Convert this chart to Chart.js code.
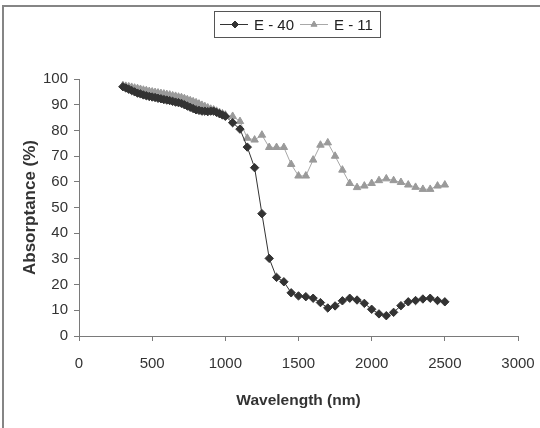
<!DOCTYPE html>
<html>
<head>
<meta charset="utf-8">
<title>Absorptance vs Wavelength</title>
<script src="https://cdn.jsdelivr.net/npm/chart.js@4/dist/chart.umd.min.js"></script>
<style>
    html, body { margin: 0; padding: 0; background: #fff; }
    #wrap { position: relative; width: 540px; height: 428px; }
</style>
</head>
<body>
<div id="wrap">
    <canvas id="absChart" width="540" height="428"></canvas>
</div>
<script>
// Data
const wavelengths = [
    300, 320, 340, 360, 380, 400, 420, 440, 460, 480,
    500, 520, 540, 560, 580, 600, 620, 640, 660, 680,
    700, 720, 740, 760, 780, 800, 820, 840, 860, 880,
    900, 920, 940, 960, 980, 1000,
    1050, 1100, 1150, 1200, 1250, 1300, 1350, 1400, 1450, 1500,
    1550, 1600, 1650, 1700, 1750, 1800, 1850, 1900, 1950, 2000,
    2050, 2100, 2150, 2200, 2250, 2300, 2350, 2400, 2450, 2500
];

const e40 = [
    97.0, 96.5, 96.0, 95.5, 95.0, 94.5, 94.2, 93.8, 93.5, 93.2,
    93.0, 92.8, 92.5, 92.3, 92.0, 91.8, 91.6, 91.3, 91.0, 90.8,
    90.5, 90.0, 89.5, 89.0, 88.5, 88.0, 87.8, 87.5, 87.5, 87.3,
    87.5, 87.5, 87.0, 86.5, 86.0, 85.5,
    83.0, 80.5, 73.5, 65.5, 47.6, 30.2, 22.8, 21.1, 16.8, 15.6,
    15.3, 14.7, 13.0, 10.9, 11.7, 13.7, 14.7, 14.0, 12.7, 10.4,
    8.6, 7.9, 9.2, 11.8, 13.3, 13.8, 14.4, 14.7, 13.8, 13.3
];

const e11 = [
    97.5, 97.2, 97.0, 96.8, 96.5, 96.3, 96.0, 95.7, 95.5, 95.2,
    95.0, 94.8, 94.6, 94.4, 94.2, 94.0, 93.8, 93.5, 93.3, 93.0,
    92.8, 92.4, 92.0, 91.6, 91.2, 90.8, 90.3, 89.8, 89.3, 88.8,
    88.3, 88.0, 87.5, 87.0, 86.5, 86.0,
    85.5, 83.5, 77.0, 76.3, 78.2, 73.4, 73.4, 73.4, 66.8, 62.3,
    62.3, 68.5, 74.3, 75.2, 70.0, 64.6, 59.4, 57.8, 58.4, 59.4,
    60.5, 61.2, 60.5, 59.8, 58.8, 57.9, 57.1, 57.1, 58.4, 58.8
];

const seriesNames = ['E - 40', 'E - 11'];
const xTicks = [0, 500, 1000, 1500, 2000, 2500, 3000];
const yTicks = [0, 10, 20, 30, 40, 50, 60, 70, 80, 90, 100];

const FONT = "'Liberation Sans', Arial, sans-serif";
const axisColor = '#7a7a7a';
const darkColor = '#333333';
const greyLine = '#a8a8a8';
const greyMark = '#9a9a9a';

function toPoints(values) {
    return wavelengths.map((w, i) => ({ x: w, y: values[i] }));
}

// Outer frame (only top and left edges are visible in the picture)
const framePlugin = {
    id: 'frame',
    beforeDraw(chart) {
        const ctx = chart.ctx;
        ctx.save();
        ctx.fillStyle = '#ffffff';
        ctx.fillRect(0, 0, chart.width, chart.height);
        ctx.fillStyle = '#858585';
        ctx.fillRect(2, 5, 2, chart.height - 5);
        ctx.fillRect(2, 5, chart.width - 2, 2);
        ctx.restore();
    }
};

// Boxed legend with line + marker samples
const boxLegendPlugin = {
    id: 'boxLegend',
    afterDraw(chart) {
        const ctx = chart.ctx;
        ctx.save();
        ctx.strokeStyle = '#555';
        ctx.lineWidth = 1;
        ctx.strokeRect(214.5, 11.5, 166, 26);

        const cy = 24.5;
        const entries = [
            { x0: 220, x1: 248, mx: 235, tx: 254, line: darkColor, mark: darkColor, style: 'rectRot', label: seriesNames[0] },
            { x0: 300, x1: 328, mx: 314, tx: 334, line: greyLine, mark: greyMark, style: 'triangle', label: seriesNames[1] }
        ];
        entries.forEach(e => {
            ctx.strokeStyle = e.line;
            ctx.lineWidth = 1;
            ctx.beginPath();
            ctx.moveTo(e.x0, cy);
            ctx.lineTo(e.x1, cy);
            ctx.stroke();
            ctx.fillStyle = e.mark;
            ctx.strokeStyle = e.mark;
            Chart.helpers.drawPoint(ctx, { pointStyle: e.style, radius: 3.5, rotation: 0, borderWidth: 1 }, e.mx, cy);
            ctx.fillStyle = '#222';
            ctx.font = '15px ' + FONT;
            ctx.textBaseline = 'middle';
            ctx.textAlign = 'left';
            ctx.fillText(e.label, e.tx, cy + 1);
        });
        ctx.restore();
    }
};

const absChart = new Chart(document.getElementById('absChart'), {
    type: 'line',
    data: {
        datasets: [
            {
                label: seriesNames[0],
                data: toPoints(e40),
                borderColor: darkColor,
                borderWidth: 1,
                backgroundColor: darkColor,
                pointStyle: 'rectRot',
                pointRadius: 4.2,
                pointBorderWidth: 1,
                pointBorderColor: darkColor,
                pointBackgroundColor: darkColor,
                tension: 0
            },
            {
                label: seriesNames[1],
                data: toPoints(e11),
                borderColor: greyLine,
                borderWidth: 1,
                backgroundColor: greyMark,
                pointStyle: 'triangle',
                pointRadius: 4.3,
                pointBorderWidth: 1,
                pointBorderColor: greyMark,
                pointBackgroundColor: greyMark,
                tension: 0
            }
        ]
    },
    options: {
        responsive: false,
        animation: false,
        devicePixelRatio: 1,
        layout: { padding: { left: 0, top: 79, right: 22, bottom: 0 } },
        plugins: {
            legend: { display: false },
            tooltip: { enabled: false }
        },
        scales: {
            x: {
                type: 'linear',
                min: 0,
                max: 3000,
                afterBuildTicks: axis => { axis.ticks = xTicks.map(v => ({ value: v })); },
                afterFit: axis => {
                    axis.height = 92;
                    axis.paddingLeft = 0;
                    axis.paddingRight = 0;
                },
                grid: { drawOnChartArea: false, drawTicks: true, tickLength: 5, color: axisColor },
                border: { display: true, color: axisColor, width: 1 },
                ticks: {
                    color: '#333',
                    padding: 14,
                    font: { family: FONT, size: 15 },
                    callback: value => String(value)
                },
                title: {
                    display: true,
                    text: 'Wavelength (nm)',
                    color: '#333',
                    padding: { top: 8, bottom: 18 },
                    font: { family: FONT, size: 15.5, weight: 'bold' }
                }
            },
            y: {
                min: 0,
                max: 100,
                afterBuildTicks: axis => { axis.ticks = yTicks.map(v => ({ value: v })); },
                afterFit: axis => {
                    axis.width = 79;
                    axis.paddingTop = 0;
                    axis.paddingBottom = 0;
                },
                grid: { drawOnChartArea: false, drawTicks: true, tickLength: 5, color: axisColor },
                border: { display: true, color: axisColor, width: 1 },
                ticks: {
                    color: '#333',
                    padding: 6,
                    font: { family: FONT, size: 15 },
                    callback: value => String(value)
                },
                title: {
                    display: true,
                    text: 'Absorptance (%)',
                    color: '#333',
                    padding: { top: 20, bottom: 4 },
                    font: { family: FONT, size: 17, weight: 'bold' }
                }
            }
        }
    },
    plugins: [framePlugin, boxLegendPlugin]
});
</script>
</body>
</html>
